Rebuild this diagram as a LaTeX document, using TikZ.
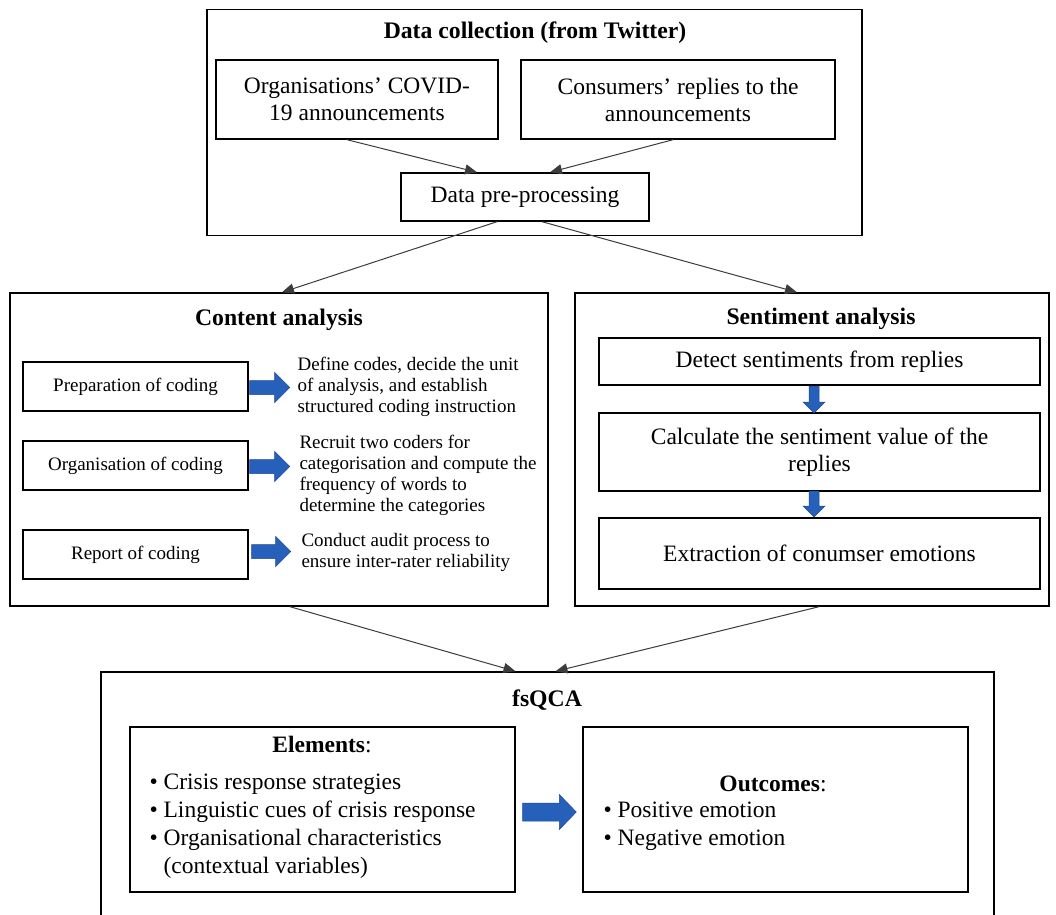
\documentclass[tikz,border=0pt]{standalone}
\usepackage{fontspec}
\setmainfont{Liberation Serif}
\usetikzlibrary{arrows.meta,calc}
\definecolor{arrowblue}{RGB}{38,96,186}
\definecolor{arrowedge}{RGB}{30,75,150}
\definecolor{conn}{RGB}{60,60,60}
\tikzset{
  box/.style={draw=black,line width=1.4pt,inner sep=0pt,minimum width=#1},
  box/.default={10pt},
  conector/.style={draw=conn,line width=1pt,-{Triangle[length=12pt,width=10pt]}},
  bluefill/.style={fill=arrowblue,draw=arrowedge,line width=0.5pt},
  title/.style={font=\fontsize{23.7}{27}\selectfont\bfseries},
  big/.style={font=\fontsize{23.5}{27}\selectfont,align=center},
  small/.style={font=\fontsize{19}{21}\selectfont,align=left},
  smallbox/.style={draw=black,line width=1.4pt,inner sep=0pt,minimum width=225pt,minimum height=49pt,font=\fontsize{19}{21}\selectfont},
}
% horizontal block arrow: start, tip, shaft half width, head half width, head length
\newcommand{\blockH}[5]{%
  \filldraw[bluefill] ($(#1)+(0,-#3)$) -- ($(#2)+(-#5,-#3)$) -- ($(#2)+(-#5,-#4)$) -- (#2)
    -- ($(#2)+(-#5,#4)$) -- ($(#2)+(-#5,#3)$) -- ($(#1)+(0,#3)$) -- cycle;}
% downward block arrow (y axis points down)
\newcommand{\blockV}[5]{%
  \filldraw[bluefill] ($(#1)+(-#3,0)$) -- ($(#2)+(-#3,-#5)$) -- ($(#2)+(-#4,-#5)$) -- (#2)
    -- ($(#2)+(#4,-#5)$) -- ($(#2)+(#3,-#5)$) -- ($(#1)+(#3,0)$) -- cycle;}
\begin{document}
\begin{tikzpicture}[x=1pt,y=-1pt]
\useasboundingbox (0,0) rectangle (1056,914);
\clip (0,0) rectangle (1056,914);
\fill[white] (0,0) rectangle (1056,914);

% ---- Data collection ----
\node[box=655pt,minimum height=226pt] (top) at (534.5,122.5) {};
\node[title] (ttitle) at (535,33) {Data collection (from Twitter)};
\node[box=282pt,minimum height=79pt,big] (orgs) at (357,99.5) {Organisations’ COVID-\\19 announcements};
\node[box=314pt,minimum height=79pt,big] (cons) at (678,99.5) {Consumers’ replies to the\\announcements};
\node[box=248pt,minimum height=48pt,big] (pre) at (525,197) {Data pre-processing};
\draw[conector] ($(orgs.south)+(-10,0)$) -- ($(pre.north)+(-48,0)$);
\draw[conector] ($(cons.south)+(-5,0)$) -- ($(pre.north)+(25,0)$);

% ---- Content analysis ----
\node[box=538pt,minimum height=313pt] (content) at (279,449.5) {};
\node[title] (ctitle) at (279,320) {Content analysis};
\node[smallbox] (prep) at (135.5,386.5) {Preparation of coding};
\node[smallbox] (orgc) at (135.5,465.5) {Organisation of coding};
\node[smallbox] (rep) at (135.5,554.5) {Report of coding};
\node[small,anchor=west] (d1) at (294,387) {Define codes, decide the unit\\of analysis, and establish\\structured coding instruction};
\node[small,anchor=west] (d2) at (296,475) {Recruit two coders for\\categorisation and compute the\\frequency of words to\\determine the categories};
\node[small,anchor=west] (d3) at (298,552.5) {Conduct audit process to\\ensure inter-rater reliability};
\coordinate (a1s) at ($(prep.east)+(1,1)$);
\coordinate (a1e) at ($(prep.east)+(41,1)$);
\coordinate (a2s) at ($(orgc.east)+(1,1)$);
\coordinate (a2e) at ($(orgc.east)+(41,1)$);
\coordinate (a3s) at ($(rep.east)+(3,-3)$);
\coordinate (a3e) at ($(rep.east)+(42,-3)$);
\blockH{a1s}{a1e}{7}{15}{15}
\blockH{a2s}{a2e}{7}{15}{15}
\blockH{a3s}{a3e}{7}{15}{15}

% ---- Sentiment analysis ----
\node[box=474pt,minimum height=313pt] (senti) at (812,449.5) {};
\node[title] (stitle) at (821,319) {Sentiment analysis};
\node[box=441pt,minimum height=47pt,big] (detect) at (819.5,361.5) {Detect sentiments from replies};
\node[box=441pt,minimum height=78pt,big] (calc) at (819.5,452) {Calculate the sentiment value of the\\replies};
\node[box=441pt,minimum height=71pt,big] (extr) at (819.5,553.5) {Extraction of conumser emotions};
\coordinate (s1s) at (814,386);
\coordinate (s1e) at (814,413);
\coordinate (s2s) at (814,491);
\coordinate (s2e) at (814,517);
\blockV{s1s}{s1e}{5}{11}{11}
\blockV{s2s}{s2e}{5}{11}{11}

\draw[conector] ($(pre.south)+(-28,0)$) -- ($(content.north)+(3,0)$);
\draw[conector] ($(pre.south)+(17,0)$) -- ($(senti.north)+(-15,0)$);

% ---- fsQCA ----
\node[box=893pt,minimum height=258pt] (fsqca) at (547.5,801) {};
\node[title] (ftitle) at (547,700) {fsQCA};
\node[box=385pt,minimum height=165pt] (elem) at (322.5,809.5) {};
\node[box=385pt,minimum height=165pt] (outc) at (775.5,809.5) {};
\node[font=\fontsize{23.5}{28}\selectfont] (eh) at (322,744) {\textbf{Elements}:};
\node[font=\fontsize{23.5}{28}\selectfont,align=left,anchor=west] (el) at (146,826) {%
\textbullet\ Crisis response strategies\\
\textbullet\ Linguistic cues of crisis response\\
\textbullet\ Organisational characteristics\\
\phantom{\textbullet\ }(contextual variables)};
\node[font=\fontsize{23.5}{28}\selectfont] (oh) at (773,784) {\textbf{Outcomes}:};
\node[font=\fontsize{23.5}{28}\selectfont,align=left,anchor=west] (ol) at (600,826) {%
\textbullet\ Positive emotion\\
\textbullet\ Negative emotion};
\coordinate (fas) at ($(elem.east)+(7,2.5)$);
\coordinate (fae) at ($(outc.west)+(-6,2.5)$);
\blockH{fas}{fae}{9}{17.5}{17}

\draw[conector] ($(content.south)+(11,0)$) -- ($(fsqca.north)+(-32,0)$);
\draw[conector] ($(senti.south)+(7,0)$) -- ($(fsqca.north)+(8,0)$);
\end{tikzpicture}
\end{document}
